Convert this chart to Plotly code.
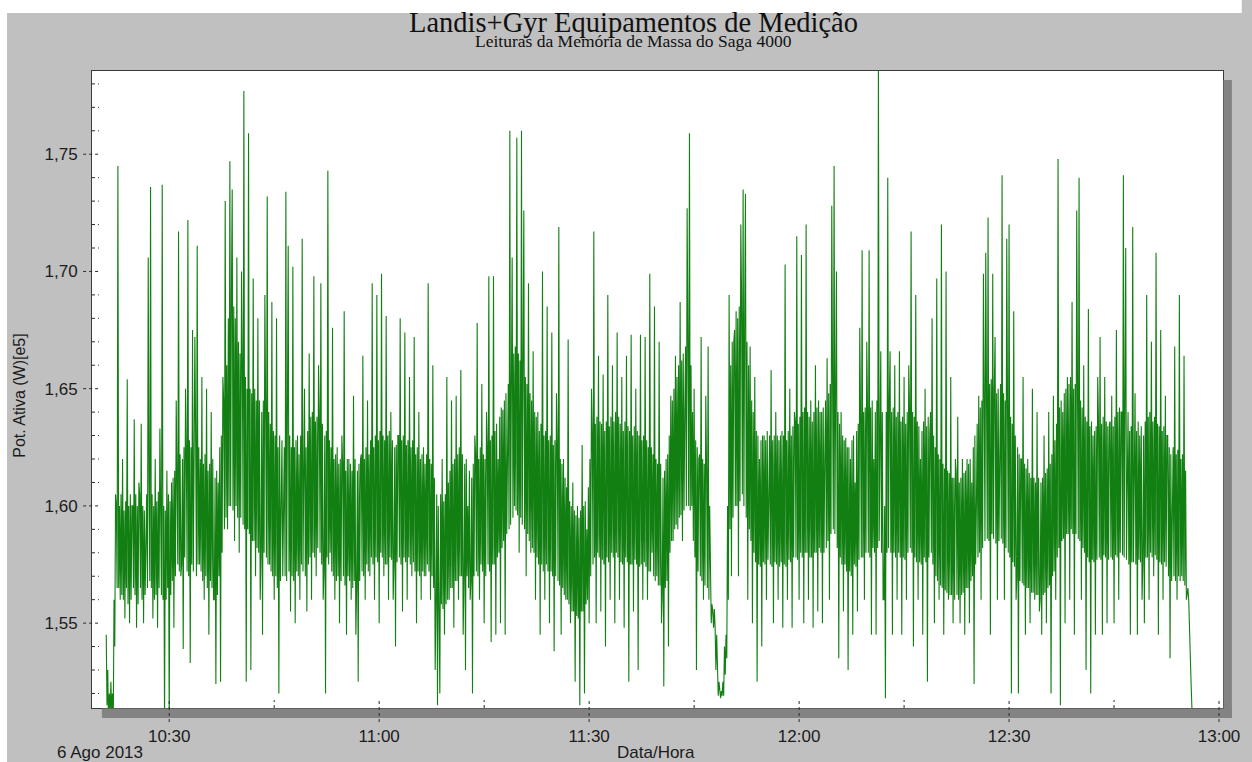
import plotly.graph_objects as go
import pandas as pd

# ---------------- data ----------------
start_time = "2013-08-06 10:21:00"
sample_step_s = 20           # spacing (s) of the readings in `power`

# peak / trough readings, one every 20 s
power = [
    # 10:21 - 10:46
    1.545, 1.505, 1.525, 1.505, 1.605, 1.745, 1.560, 1.620, 1.552, 1.654,
    1.550, 1.600, 1.637, 1.548, 1.610, 1.635, 1.550, 1.600, 1.706, 1.736,
    1.552, 1.620, 1.548, 1.633, 1.737, 1.505, 1.615, 1.505, 1.610, 1.548,
    1.645, 1.717, 1.570, 1.539, 1.650, 1.722, 1.533, 1.675, 1.672, 1.711,
    1.575, 1.655, 1.560, 1.650, 1.545, 1.640, 1.560, 1.524, 1.610, 1.525,
    1.655, 1.730, 1.590, 1.747, 1.735, 1.585, 1.706, 1.580, 1.700, 1.777,
    1.525, 1.759, 1.530, 1.697, 1.570, 1.680, 1.560, 1.545, 1.690, 1.732,
    1.575, 1.687, 1.560, 1.680, 1.520, 1.600,
    # 10:46 - 11:13
    1.600, 1.734, 1.711, 1.555, 1.702, 1.550, 1.630, 1.560, 1.714, 1.650,
    1.555, 1.665, 1.560, 1.698, 1.570, 1.660, 1.695, 1.560, 1.520, 1.743,
    1.580, 1.676, 1.560, 1.625, 1.550, 1.630, 1.683, 1.545, 1.620, 1.560,
    1.647, 1.545, 1.525, 1.620, 1.664, 1.560, 1.645, 1.570, 1.695, 1.560,
    1.690, 1.550, 1.699, 1.570, 1.681, 1.560, 1.640, 1.560, 1.540, 1.630,
    1.680, 1.555, 1.674, 1.560, 1.655, 1.570, 1.672, 1.550, 1.640, 1.560,
    1.625, 1.570, 1.695, 1.560, 1.660, 1.530, 1.515, 1.520, 1.620, 1.545,
    1.655, 1.560, 1.645, 1.548, 1.647, 1.560, 1.658, 1.545, 1.530, 1.600,
    1.560,
    # 11:13 - 11:39
    1.520, 1.630, 1.678, 1.560, 1.652, 1.550, 1.640, 1.698, 1.542, 1.698,
    1.545, 1.620, 1.550, 1.641, 1.545, 1.620, 1.760, 1.706, 1.600, 1.757,
    1.580, 1.760, 1.726, 1.570, 1.695, 1.580, 1.666, 1.560, 1.640, 1.545,
    1.700, 1.560, 1.685, 1.550, 1.674, 1.538, 1.648, 1.719, 1.545, 1.620,
    1.560, 1.671, 1.550, 1.610, 1.525, 1.600, 1.515, 1.626, 1.520, 1.590,
    1.550, 1.650, 1.717, 1.550, 1.664, 1.555, 1.656, 1.540, 1.690, 1.560,
    1.660, 1.550, 1.674, 1.560, 1.655, 1.548, 1.664, 1.525, 1.673, 1.555,
    1.650, 1.530, 1.673, 1.560, 1.672, 1.560, 1.699, 1.580, 1.685, 1.570,
    # 11:40 - 12:06
    1.670, 1.550, 1.523, 1.620, 1.540, 1.647, 1.585, 1.664, 1.590, 1.687,
    1.585, 1.640, 1.727, 1.759, 1.600, 1.650, 1.530, 1.620, 1.672, 1.560,
    1.647, 1.668, 1.555, 1.555, 1.548, 1.522, 1.519, 1.519, 1.540, 1.535,
    1.690, 1.570, 1.670, 1.683, 1.570, 1.720, 1.735, 1.733, 1.560, 1.668,
    1.550, 1.655, 1.525, 1.620, 1.540, 1.630, 1.560, 1.625, 1.658, 1.550,
    1.640, 1.560, 1.630, 1.548, 1.703, 1.560, 1.650, 1.548, 1.640, 1.715,
    1.560, 1.707, 1.550, 1.720, 1.560, 1.645, 1.548, 1.660, 1.555, 1.640,
    1.550, 1.620, 1.663, 1.560, 1.728, 1.745, 1.700, 1.535, 1.640, 1.555,
    1.629,
    # 12:07 - 12:33
    1.530, 1.620, 1.545, 1.610, 1.555, 1.676, 1.709, 1.560, 1.670, 1.709,
    1.545, 1.620, 1.545, 1.790, 1.666, 1.560, 1.518, 1.740, 1.666, 1.545,
    1.660, 1.560, 1.666, 1.545, 1.655, 1.560, 1.660, 1.717, 1.540, 1.690,
    1.560, 1.620, 1.545, 1.650, 1.525, 1.630, 1.680, 1.550, 1.697, 1.560,
    1.720, 1.545, 1.700, 1.560, 1.655, 1.550, 1.620, 1.638, 1.550, 1.620,
    1.545, 1.620, 1.550, 1.610, 1.524, 1.600, 1.647, 1.560, 1.699, 1.708,
    1.723, 1.545, 1.699, 1.672, 1.560, 1.640, 1.741, 1.560, 1.714, 1.720,
    1.520, 1.683, 1.560, 1.520, 1.620, 1.655, 1.545, 1.620, 1.550, 1.650,
    1.560,
    # 12:34 - 12:56
    1.640, 1.555, 1.545, 1.630, 1.550, 1.640, 1.520, 1.647, 1.560, 1.748,
    1.515, 1.640, 1.550, 1.655, 1.560, 1.687, 1.545, 1.726, 1.740, 1.560,
    1.660, 1.530, 1.684, 1.520, 1.630, 1.545, 1.655, 1.672, 1.545, 1.655,
    1.550, 1.635, 1.647, 1.550, 1.675, 1.560, 1.640, 1.741, 1.710, 1.640,
    1.545, 1.719, 1.648, 1.545, 1.630, 1.560, 1.550, 1.690, 1.560, 1.670,
    1.570, 1.708, 1.545, 1.675, 1.560, 1.647, 1.630, 1.535, 1.620, 1.668,
    1.560, 1.690, 1.570, 1.664, 1.560, 1.560, 1.525, 1.500,
]

# two intermediate readings inside each 20 s slot (dense core of the band)
inner = [
    # 10:21 - 10:46
    (1.515, 1.530), (1.520, 1.510), (1.512, 1.520), (1.560, 1.540), (1.600, 1.565),
    (1.565, 1.600), (1.605, 1.562), (1.560, 1.598), (1.602, 1.565), (1.558, 1.600),
    (1.605, 1.560), (1.600, 1.565), (1.562, 1.605), (1.600, 1.558), (1.605, 1.565),
    (1.560, 1.600), (1.598, 1.562), (1.605, 1.565), (1.610, 1.568), (1.565, 1.605),
    (1.600, 1.560), (1.562, 1.602), (1.606, 1.565), (1.600, 1.562), (1.560, 1.600),
    (1.598, 1.560), (1.565, 1.605), (1.602, 1.562), (1.568, 1.612), (1.615, 1.570),
    (1.620, 1.575), (1.572, 1.622), (1.575, 1.620), (1.625, 1.578), (1.622, 1.572),
    (1.570, 1.628), (1.625, 1.575), (1.572, 1.620), (1.628, 1.570), (1.575, 1.625),
    (1.620, 1.572), (1.568, 1.618), (1.622, 1.570), (1.565, 1.615), (1.618, 1.568),
    (1.565, 1.620), (1.560, 1.612), (1.615, 1.562), (1.570, 1.625), (1.630, 1.580),
    (1.645, 1.590), (1.595, 1.660), (1.680, 1.600), (1.600, 1.690), (1.598, 1.685),
    (1.680, 1.600), (1.595, 1.670), (1.665, 1.595), (1.660, 1.592), (1.590, 1.655),
    (1.650, 1.590), (1.588, 1.650), (1.648, 1.585), (1.585, 1.650), (1.645, 1.582),
    (1.580, 1.645), (1.578, 1.640), (1.645, 1.580), (1.640, 1.578), (1.575, 1.640),
    (1.635, 1.572), (1.570, 1.632), (1.630, 1.570), (1.565, 1.625), (1.630, 1.568),
    (1.628, 1.570),
    # 10:46 - 11:13
    (1.625, 1.570), (1.568, 1.628), (1.572, 1.630), (1.625, 1.570), (1.568, 1.625),
    (1.628, 1.572), (1.570, 1.622), (1.630, 1.575), (1.572, 1.628), (1.570, 1.625),
    (1.632, 1.575), (1.578, 1.638), (1.640, 1.580), (1.578, 1.636), (1.638, 1.582),
    (1.640, 1.580), (1.575, 1.635), (1.572, 1.630), (1.632, 1.578), (1.575, 1.628),
    (1.625, 1.572), (1.570, 1.620), (1.622, 1.568), (1.570, 1.618), (1.620, 1.568),
    (1.618, 1.570), (1.566, 1.615), (1.620, 1.570), (1.568, 1.618), (1.615, 1.565),
    (1.568, 1.620), (1.565, 1.615), (1.618, 1.568), (1.622, 1.572), (1.570, 1.620),
    (1.625, 1.575), (1.572, 1.622), (1.628, 1.578), (1.575, 1.625), (1.630, 1.578),
    (1.576, 1.628), (1.632, 1.580), (1.578, 1.630), (1.628, 1.575), (1.575, 1.630),
    (1.632, 1.578), (1.577, 1.628), (1.575, 1.625), (1.626, 1.576), (1.630, 1.578),
    (1.575, 1.628), (1.630, 1.578), (1.576, 1.626), (1.628, 1.578), (1.575, 1.625),
    (1.628, 1.576), (1.572, 1.622), (1.625, 1.572), (1.570, 1.620), (1.622, 1.572),
    (1.570, 1.618), (1.622, 1.575), (1.572, 1.620), (1.618, 1.570), (1.565, 1.612),
    (1.558, 1.605), (1.600, 1.555), (1.605, 1.558), (1.556, 1.602), (1.605, 1.558),
    (1.560, 1.610), (1.615, 1.565), (1.565, 1.618), (1.620, 1.568), (1.568, 1.622),
    (1.625, 1.570), (1.570, 1.622), (1.568, 1.618), (1.620, 1.570), (1.565, 1.615),
    (1.568, 1.612),
    # 11:13 - 11:39
    (1.618, 1.570), (1.622, 1.572), (1.570, 1.620), (1.625, 1.575), (1.572, 1.622),
    (1.620, 1.570), (1.625, 1.575), (1.572, 1.628), (1.630, 1.575), (1.575, 1.632),
    (1.635, 1.578), (1.580, 1.638), (1.642, 1.582), (1.585, 1.645), (1.648, 1.588),
    (1.652, 1.590), (1.592, 1.660), (1.595, 1.665), (1.668, 1.598), (1.596, 1.665),
    (1.662, 1.595), (1.592, 1.660), (1.590, 1.655), (1.652, 1.588), (1.585, 1.648),
    (1.645, 1.582), (1.580, 1.640), (1.638, 1.578), (1.575, 1.632), (1.635, 1.575),
    (1.572, 1.630), (1.632, 1.575), (1.572, 1.628), (1.630, 1.572), (1.570, 1.626),
    (1.628, 1.570), (1.625, 1.568), (1.566, 1.620), (1.618, 1.565), (1.562, 1.612),
    (1.608, 1.560), (1.558, 1.602), (1.600, 1.555), (1.555, 1.598), (1.596, 1.553),
    (1.552, 1.595), (1.598, 1.555), (1.555, 1.600), (1.602, 1.558), (1.560, 1.608),
    (1.620, 1.570), (1.630, 1.575), (1.578, 1.635), (1.638, 1.580), (1.578, 1.636),
    (1.635, 1.577), (1.575, 1.632), (1.636, 1.578), (1.576, 1.634), (1.638, 1.580),
    (1.578, 1.636), (1.640, 1.580), (1.578, 1.638), (1.635, 1.576), (1.575, 1.632),
    (1.636, 1.578), (1.576, 1.634), (1.632, 1.575), (1.575, 1.630), (1.634, 1.577),
    (1.575, 1.632), (1.630, 1.574), (1.575, 1.628), (1.630, 1.576), (1.574, 1.628),
    (1.625, 1.572), (1.572, 1.625), (1.622, 1.570), (1.568, 1.620), (1.618, 1.566),
    # 11:40 - 12:06
    (1.566, 1.618), (1.562, 1.612), (1.615, 1.565), (1.568, 1.622), (1.630, 1.580),
    (1.585, 1.645), (1.650, 1.590), (1.592, 1.655), (1.660, 1.595), (1.596, 1.662),
    (1.665, 1.598), (1.668, 1.600), (1.670, 1.600), (1.598, 1.660), (1.640, 1.585),
    (1.578, 1.628), (1.625, 1.572), (1.622, 1.570), (1.568, 1.620), (1.618, 1.566),
    (1.615, 1.565), (1.560, 1.600), (1.550, 1.558), (1.548, 1.556), (1.530, 1.545),
    (1.519, 1.525), (1.518, 1.521), (1.525, 1.519), (1.528, 1.545), (1.600, 1.560),
    (1.590, 1.660), (1.670, 1.595), (1.675, 1.600), (1.600, 1.680), (1.685, 1.602),
    (1.690, 1.605), (1.600, 1.680), (1.595, 1.670), (1.660, 1.590), (1.585, 1.645),
    (1.640, 1.580), (1.576, 1.632), (1.630, 1.575), (1.574, 1.628), (1.630, 1.576),
    (1.575, 1.628), (1.632, 1.577), (1.630, 1.575), (1.574, 1.628), (1.630, 1.576),
    (1.575, 1.630), (1.628, 1.574), (1.576, 1.632), (1.630, 1.575), (1.574, 1.628),
    (1.632, 1.577), (1.576, 1.630), (1.634, 1.578), (1.636, 1.578), (1.577, 1.635),
    (1.638, 1.580), (1.578, 1.640), (1.642, 1.580), (1.580, 1.640), (1.638, 1.578),
    (1.578, 1.636), (1.640, 1.580), (1.580, 1.642), (1.645, 1.582), (1.580, 1.640),
    (1.642, 1.580), (1.645, 1.582), (1.585, 1.648), (1.652, 1.588), (1.655, 1.590),
    (1.588, 1.650), (1.582, 1.640), (1.635, 1.578), (1.575, 1.630), (1.628, 1.575),
    (1.572, 1.625),
    # 12:07 - 12:33
    (1.625, 1.572), (1.570, 1.628), (1.630, 1.575), (1.574, 1.632), (1.635, 1.577),
    (1.638, 1.578), (1.578, 1.640), (1.642, 1.580), (1.640, 1.580), (1.578, 1.642),
    (1.645, 1.582), (1.580, 1.640), (1.645, 1.582), (1.585, 1.648), (1.580, 1.640),
    (1.560, 1.600), (1.640, 1.580), (1.582, 1.645), (1.580, 1.640), (1.642, 1.580),
    (1.578, 1.638), (1.640, 1.580), (1.578, 1.636), (1.638, 1.578), (1.577, 1.635),
    (1.640, 1.580), (1.642, 1.582), (1.580, 1.640), (1.638, 1.578), (1.576, 1.636),
    (1.634, 1.576), (1.575, 1.632), (1.636, 1.578), (1.576, 1.634), (1.638, 1.578),
    (1.640, 1.580), (1.575, 1.630), (1.625, 1.570), (1.568, 1.622), (1.620, 1.566),
    (1.565, 1.618), (1.616, 1.564), (1.563, 1.615), (1.614, 1.562), (1.562, 1.612),
    (1.612, 1.560), (1.614, 1.562), (1.560, 1.610), (1.612, 1.562), (1.563, 1.614),
    (1.615, 1.565), (1.565, 1.618), (1.620, 1.568), (1.570, 1.625), (1.630, 1.575),
    (1.635, 1.578), (1.580, 1.642), (1.645, 1.582), (1.648, 1.585), (1.650, 1.586),
    (1.585, 1.652), (1.654, 1.588), (1.586, 1.650), (1.584, 1.648), (1.650, 1.585),
    (1.652, 1.586), (1.584, 1.648), (1.645, 1.582), (1.642, 1.580), (1.578, 1.638),
    (1.635, 1.576), (1.574, 1.630), (1.570, 1.625), (1.622, 1.568), (1.620, 1.567),
    (1.566, 1.618), (1.616, 1.565), (1.565, 1.614), (1.612, 1.563), (1.563, 1.612),
    (1.610, 1.562),
    # 12:34 - 12:56
    (1.562, 1.612), (1.560, 1.610), (1.612, 1.562), (1.563, 1.614), (1.616, 1.565),
    (1.566, 1.618), (1.622, 1.570), (1.572, 1.628), (1.635, 1.578), (1.582, 1.642),
    (1.645, 1.585), (1.586, 1.648), (1.650, 1.588), (1.588, 1.652), (1.655, 1.590),
    (1.588, 1.650), (1.652, 1.588), (1.650, 1.586), (1.585, 1.645), (1.642, 1.582),
    (1.580, 1.638), (1.636, 1.578), (1.576, 1.634), (1.636, 1.577), (1.576, 1.632),
    (1.634, 1.577), (1.636, 1.578), (1.577, 1.635), (1.638, 1.579), (1.578, 1.636),
    (1.634, 1.577), (1.636, 1.578), (1.577, 1.634), (1.638, 1.579), (1.578, 1.640),
    (1.642, 1.580), (1.640, 1.579), (1.578, 1.638), (1.577, 1.636), (1.575, 1.632),
    (1.634, 1.576), (1.576, 1.635), (1.575, 1.632), (1.636, 1.577), (1.576, 1.634),
    (1.575, 1.630), (1.636, 1.578), (1.578, 1.638), (1.640, 1.580), (1.578, 1.636),
    (1.638, 1.579), (1.577, 1.635), (1.634, 1.576), (1.575, 1.632), (1.634, 1.576),
    (1.574, 1.630), (1.570, 1.625), (1.622, 1.568), (1.625, 1.570), (1.568, 1.622),
    (1.624, 1.570), (1.568, 1.620), (1.622, 1.568), (1.566, 1.615), (1.562, 1.565),
    (1.545, 1.535), (1.515, 1.505),
]

x_ticks = ["2013-08-06 10:30", "2013-08-06 11:00", "2013-08-06 11:30",
           "2013-08-06 12:00", "2013-08-06 12:30", "2013-08-06 13:00"]
x_minor = ["2013-08-06 10:45", "2013-08-06 11:15", "2013-08-06 11:45",
           "2013-08-06 12:15", "2013-08-06 12:45"]
y_ticks = [1.55, 1.60, 1.65, 1.70, 1.75]
y_minor = [1.52, 1.53, 1.54, 1.56, 1.57, 1.58, 1.59, 1.61, 1.62, 1.63, 1.64,
           1.66, 1.67, 1.68, 1.69, 1.71, 1.72, 1.73, 1.74, 1.76, 1.77, 1.78]
x_range = ["2013-08-06 10:18:58", "2013-08-06 13:00:34"]
y_range = [1.5138, 1.7855]

title = "Landis+Gyr Equipamentos de Medição"
subtitle = "Leituras da Memória de Massa do Saga 4000"
y_title = "Pot. Ativa (W)[e5]"
x_title = "Data/Hora"
date_label = "6 Ago 2013"

# ---------------- put all readings on one time axis ----------------
t0 = pd.Timestamp(start_time)
step = pd.Timedelta(seconds=sample_step_s)
third = step / 3
parts = [pd.Series(power, index=[t0 + k * step for k in range(len(power))])]
n_inner = min(len(inner), len(power) - 1)
parts.append(pd.Series([inner[k][0] for k in range(n_inner)],
                       index=[t0 + k * step + third for k in range(n_inner)]))
parts.append(pd.Series([inner[k][1] for k in range(n_inner)],
                       index=[t0 + k * step + 2 * third for k in range(n_inner)]))
series = pd.concat(parts).sort_index()

# ---------------- layout geometry ----------------
OX = 7                          # white strip at the left of the picture
PAGE_W, PAGE_H = 1252, 762
W, H = PAGE_W - OX, PAGE_H
L, R, T, B = 92, 1235, 71, 708  # plot area, page pixels
pw, ph = R - L, B - T


def px(x):          # page x pixel -> paper coordinate
    return (x - L) / pw


def py(y):          # page y pixel -> paper coordinate
    return (B - y) / ph


fig = go.Figure()
fig.add_trace(go.Scatter(
    x=series.index, y=series.values, mode="lines",
    line=dict(color="#117f11", width=1.1),
    hoverinfo="skip", showlegend=False,
))

SANS = "Liberation Sans, Arial, sans-serif"
SERIF = "Liberation Serif, Times New Roman, serif"
TXT = "#1c1c1c"
SHADOW = "#838383"
TICKC = "#2a2a2a"

shapes = [
    # white strip along the top of the picture
    dict(type="rect", xref="paper", yref="paper", layer="above",
         x0=px(OX - 2), x1=px(PAGE_W + 2), y0=py(13), y1=py(-2),
         fillcolor="white", line=dict(width=0)),
    # drop shadow of the plot frame
    dict(type="rect", xref="paper", yref="paper", x0=px(1235.5), x1=px(1244),
         y0=py(718), y1=py(80), fillcolor=SHADOW, line=dict(width=0)),
    dict(type="rect", xref="paper", yref="paper", x0=px(102), x1=px(1244),
         y0=py(718), y1=py(708.5), fillcolor=SHADOW, line=dict(width=0)),
]
for t in x_ticks:
    shapes.append(dict(type="line", xref="x", yref="paper", x0=t, x1=t,
                       y0=py(722), y1=py(698),
                       line=dict(color=TICKC, width=1, dash="dot")))
for t in x_minor:
    shapes.append(dict(type="line", xref="x", yref="paper", x0=t, x1=t,
                       y0=py(708), y1=py(700),
                       line=dict(color=TICKC, width=1, dash="dot")))
for v in y_ticks:
    shapes.append(dict(type="line", xref="paper", yref="y", x0=px(83), x1=px(100),
                       y0=v, y1=v, line=dict(color=TICKC, width=1, dash="dot")))
for v in y_minor:
    shapes.append(dict(type="line", xref="paper", yref="y", x0=px(92), x1=px(99),
                       y0=v, y1=v, line=dict(color=TICKC, width=1, dash="dot")))

annotations = [
    dict(text=title, xref="paper", yref="paper", x=px(639), y=py(22),
         xanchor="center", yanchor="middle", showarrow=False,
         font=dict(family=SERIF, size=28.5, color="#111111")),
    dict(text=subtitle, xref="paper", yref="paper", x=px(639), y=py(41),
         xanchor="center", yanchor="middle", showarrow=False,
         font=dict(family=SERIF, size=17.5, color="#111111")),
    dict(text=y_title, xref="paper", yref="paper", x=px(18), y=py(396),
         xanchor="center", yanchor="middle", textangle=-90, showarrow=False,
         font=dict(family=SANS, size=16, color=TXT)),
    dict(text=x_title, xref="paper", yref="paper", x=px(662), y=py(752),
         xanchor="center", yanchor="middle", showarrow=False,
         font=dict(family=SANS, size=17, color=TXT)),
    dict(text=date_label, xref="paper", yref="paper", x=px(100), y=py(752),
         xanchor="center", yanchor="middle", showarrow=False,
         font=dict(family=SANS, size=17, color=TXT)),
]

fig.update_layout(
    width=W, height=H,
    margin=dict(l=L - OX, r=PAGE_W - R, t=T, b=PAGE_H - B, pad=0),
    paper_bgcolor="#c0c0c0",
    plot_bgcolor="white",
    separators=",.",
    showlegend=False,
    shapes=shapes,
    annotations=annotations,
    xaxis=dict(
        range=x_range, type="date", tickvals=x_ticks, tickformat="%H:%M",
        ticks="outside", ticklen=13, tickcolor="rgba(0,0,0,0)",
        ticklabeloverflow="allow",
        tickfont=dict(family=SANS, size=17, color=TXT),
        showgrid=False, zeroline=False,
        showline=True, linecolor="#3a3a3a", linewidth=1, mirror=True,
    ),
    yaxis=dict(
        range=y_range, tickvals=y_ticks, tickformat=".2f",
        ticks="outside", ticklen=10, tickcolor="rgba(0,0,0,0)",
        tickfont=dict(family=SANS, size=17, color=TXT),
        showgrid=False, zeroline=False,
        showline=True, linecolor="#3a3a3a", linewidth=1, mirror=True,
    ),
)

fig.write_html(
    "out.html",
    config={"displayModeBar": False},
    post_script=("document.body.style.margin='0';"
                 "document.body.style.padding='0 0 0 %dpx';"
                 "document.body.style.background='white';"
                 "document.body.style.overflow='hidden';") % OX,
)
